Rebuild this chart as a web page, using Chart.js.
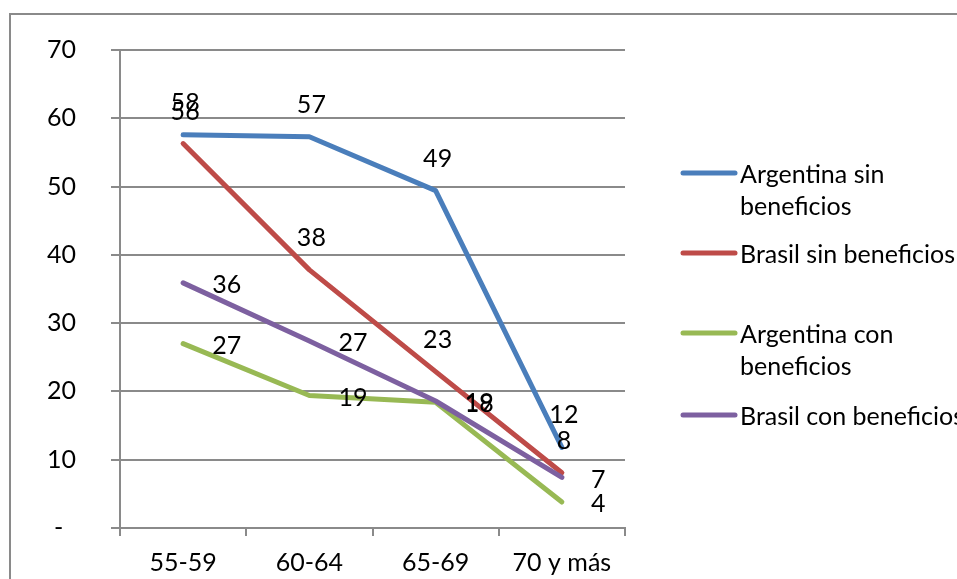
<!DOCTYPE html>
<html>
<head>
<meta charset="utf-8">
<script src="https://cdn.jsdelivr.net/npm/chart.js@4/dist/chart.umd.min.js"></script>
<style>
  html, body { margin: 0; padding: 0; background: #fff; overflow: hidden; }
  #wrap { position: relative; width: 957px; height: 579px; overflow: hidden; }
  #frame { position: absolute; left: 9px; top: 13px; width: 1100px; height: 1100px; border: 2px solid #8a8a8a; box-sizing: border-box; }
  canvas { position: absolute; left: 0; top: 0; }
</style>
</head>
<body>
<div id="wrap">
  <div id="frame"></div>
  <canvas id="c" width="957" height="579"></canvas>
</div>
<script>
const categories = ['55-59', '60-64', '65-69', '70 y más'];
const seriesNames = ['Argentina sin beneficios', 'Brasil sin beneficios', 'Argentina con beneficios', 'Brasil con beneficios'];
const legendLines = [['Argentina sin', 'beneficios'], ['Brasil sin beneficios'], ['Argentina con', 'beneficios'], ['Brasil con beneficios']];
const argentinaSin = [57.6, 57.3, 49.4, 11.8];
const brasilSin = [56.3, 37.8, 22.9, 8.1];
const argentinaCon = [27.0, 19.4, 18.4, 3.8];
const brasilCon = [35.9, 27.4, 18.6, 7.4];
const yTicks = [0, 10, 20, 30, 40, 50, 60, 70];

const colors = ['#4a7ebb', '#be4b48', '#98b954', '#7d60a0'];
const FONT = 'Lato';
const FS = 25;

const dataLabels = {
  id: 'dataLabels',
  afterDatasetsDraw(chart) {
    const ctx = chart.ctx;
    ctx.save();
    ctx.font = FS + 'px ' + FONT;
    ctx.fillStyle = '#000';
    ctx.textBaseline = 'middle';
    chart.data.datasets.forEach((ds, di) => {
      const meta = chart.getDatasetMeta(di);
      meta.data.forEach((pt, i) => {
        const txt = String(Math.round(ds.data[i]));
        if (di < 2) {
          ctx.textAlign = 'center';
          ctx.fillText(txt, pt.x + 2, pt.y - 32);
        } else {
          ctx.textAlign = 'left';
          ctx.fillText(txt, pt.x + 29, pt.y + 2);
        }
      });
    });
    ctx.restore();
  }
};

const customLegend = {
  id: 'customLegend',
  afterDraw(chart) {
    const ctx = chart.ctx;
    const ys = [173, 253, 333, 415];
    ctx.save();
    ctx.font = FS + 'px ' + FONT;
    ctx.textBaseline = 'middle';
    ctx.textAlign = 'left';
    chart.data.datasets.forEach((ds, di) => {
      const y = ys[di];
      ctx.strokeStyle = ds.borderColor;
      ctx.lineWidth = 5;
      ctx.lineCap = 'round';
      ctx.beginPath();
      ctx.moveTo(683, y);
      ctx.lineTo(735, y);
      ctx.stroke();
      ctx.fillStyle = '#000';
      legendLines[di].forEach((ln, k) => {
        ctx.fillText(ln, 740, y + 2 + k * 32);
      });
    });
    ctx.restore();
  }
};

const seriesData = [argentinaSin, brasilSin, argentinaCon, brasilCon];

new Chart(document.getElementById('c'), {
  type: 'line',
  data: {
    labels: categories,
    datasets: seriesData.map((d, i) => ({
      label: seriesNames[i],
      data: d,
      borderColor: colors[i],
      backgroundColor: colors[i],
      borderWidth: 5,
      borderCapStyle: 'round',
      borderJoinStyle: 'round',
      pointRadius: 0,
      tension: 0,
      fill: false,
      order: 3 - i
    }))
  },
  options: {
    responsive: false,
    animation: false,
    devicePixelRatio: 1,
    layout: { padding: { left: 0, top: 47, right: 332, bottom: 0 } },
    plugins: {
      legend: { display: false },
      tooltip: { enabled: false }
    },
    scales: {
      x: {
        type: 'category',
        offset: true,
        afterFit(s) { s.height = 51; },
        grid: {
          offset: true,
          drawOnChartArea: false,
          drawTicks: true,
          tickLength: 8,
          color: '#8a8a8a',
          lineWidth: 2
        },
        border: { display: true, color: '#8a8a8a', width: 2 },
        ticks: {
          color: '#000',
          font: { family: FONT, size: FS },
          padding: 12,
          maxRotation: 0,
          autoSkip: false
        }
      },
      y: {
        min: 0,
        max: 70,
        afterFit(s) { s.width = 120; },
        afterBuildTicks(s) { s.ticks = yTicks.map(v => ({ value: v })); },
        grid: {
          color: '#8a8a8a',
          lineWidth: 2,
          drawTicks: true,
          tickLength: 9
        },
        border: { display: true, color: '#8a8a8a', width: 2 },
        ticks: {
          color: '#000',
          font: { family: FONT, size: FS },
          padding: 35,
          callback: (v) => v === 0 ? '-  ' : String(v)
        }
      }
    }
  },
  plugins: [dataLabels, customLegend]
});
</script>
</body>
</html>
